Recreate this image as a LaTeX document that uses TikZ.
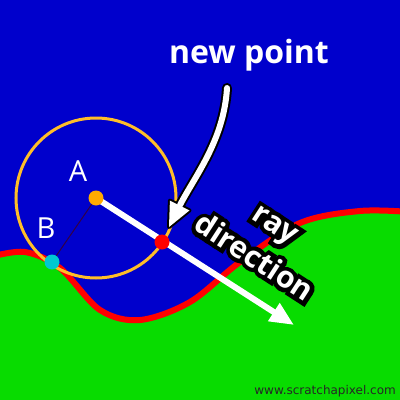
\documentclass[tikz,border=0pt]{standalone}
\usepackage{fontspec}
\setmainfont{Open Sans}
\newfontfamily\djv{DejaVu Sans}
\newfontfamily\outl{Open Sans}[BoldFeatures={FakeBold=28}]
\usetikzlibrary{arrows.meta}
\definecolor{bg}{RGB}{0,0,204}
\definecolor{gnd}{RGB}{8,220,0}
\definecolor{rline}{RGB}{255,0,0}
\definecolor{ring}{RGB}{255,190,40}
\definecolor{dotA}{RGB}{255,170,0}
\definecolor{dotB}{RGB}{0,200,210}
\definecolor{seg}{RGB}{50,0,70}
\tikzset{
  dot/.style={circle, inner sep=0pt, minimum size=15pt, draw=none},
  lbl/.style={text=white, font=\fontsize{29}{34}\selectfont, inner sep=0pt},
  raytext/.style={rotate=-33, align=center, inner sep=0pt},
}
\begin{document}
\begin{tikzpicture}[x=1pt,y=-1pt]
\fill[bg] (0,0) rectangle (400,400);
\useasboundingbox (0,0) rectangle (400,400);
% ground
\draw[rline, line width=6, fill=gnd] plot[smooth, tension=0.55] coordinates {(-10,257) (25,252) (60,268) (100,310) (140,320) (190,302) (240,262) (300,223) (360,211) (410,212)} -- (410,410) -- (-10,410) -- cycle;
% coordinates
\coordinate (Ac) at (96,198);
\coordinate (Bc) at (52,262);
\coordinate (Pc) at (162,242);
\coordinate (R) at (294,325);
% circle
\draw[ring, line width=3] (Ac) circle[radius=80];
% segment and ray
\draw[seg, line width=1] (Ac) -- (Bc);
\draw[white, line width=6, -{Triangle[length=24pt,width=20pt]}] (Ac) -- (R);
% dots
\node[dot, fill=dotA] (A) at (Ac) {};
\node[dot, fill=dotB] (B) at (Bc) {};
\node[dot, fill=red] (P) at (Pc) {};
% labels
\node[lbl] (la) at (78,171) {A};
\node[lbl] (lb) at (46,228) {B};
% curved arrow
\coordinate (N0) at (227,88);
\coordinate (N1) at (180,205);
\coordinate (T) at (169,227);
\coordinate (H1) at (189.5,210.4);
\coordinate (H2) at (169.9,200.6);
\draw[black, line width=10, line cap=round] (N0) .. controls (224,140) and (195,176) .. (N1);
\filldraw[black, fill=white, line width=4, line join=round] (T) -- (H1) -- (H2) -- cycle;
\draw[white, line width=6, line cap=round] (N0) .. controls (224,140) and (195,176) .. (N1);
\fill[white] (T) -- (H1) -- (H2) -- cycle;
% texts
\node[text=white, font=\bfseries\fontsize{32}{38}\selectfont, anchor=base, inner sep=0pt] (np) at (249,63) {new point};
\node[raytext, text=black, font=\outl\bfseries\fontsize{30}{40}\selectfont] (rdo) at (264,242) {ray\\direction};
\node[raytext, text=white, font=\bfseries\fontsize{30}{40}\selectfont] (rd) at (264,242) {ray\\direction};
\node[text=black!85, font=\djv\fontsize{12}{14}\selectfont, anchor=base east, inner sep=0pt] (wm) at (396,394) {www.scratchapixel.com};
\end{tikzpicture}
\end{document}
